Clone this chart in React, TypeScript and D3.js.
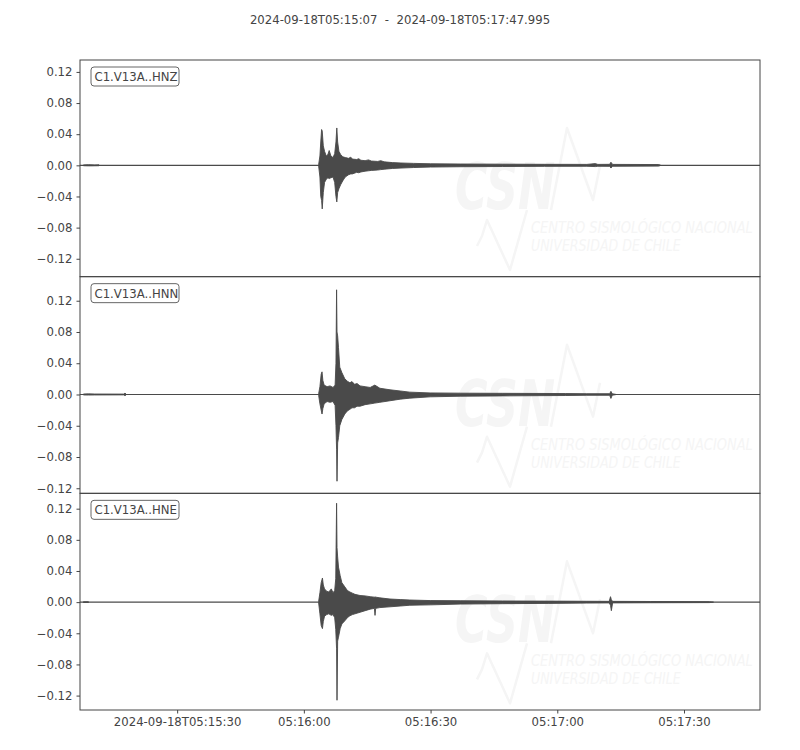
import { useRef, useEffect } from "react";
import * as d3 from "d3";

// ── Data ────────────────────────────────────────────────────────────────────
const TITLE = "2024-09-18T05:15:07  -  2024-09-18T05:17:47.995";
const START_TIME = "2024-09-18T05:15:07.000Z";
const END_TIME = "2024-09-18T05:17:47.995Z";

const CHANNELS = ["C1.V13A..HNZ", "C1.V13A..HNN", "C1.V13A..HNE"];
// y-limits per panel (equal range, different centre)
const Y_LIMITS: [number, number][] = [
  [-0.143, 0.1353],
  [-0.1265, 0.1508],
  [-0.1385, 0.1397],
];
const Y_TICKS = [-0.12, -0.08, -0.04, 0, 0.04, 0.08, 0.12];

const X_TICKS = [
  "2024-09-18T05:15:30Z",
  "2024-09-18T05:16:00Z",
  "2024-09-18T05:16:30Z",
  "2024-09-18T05:17:00Z",
  "2024-09-18T05:17:30Z",
];
const X_TICK_LABELS = ["2024-09-18T05:15:30", "05:16:00", "05:16:30", "05:17:00", "05:17:30"];

// Trace extent in seconds from start (flat part of the trace)
const TRACE_SPAN = [0, 160.995];

// Envelopes: [seconds from start, max, min]
type Env = [number, number, number];

const HNZ_PRE: Env[] = [
  [0.8, 0.0005, -0.0005], [2, 0.0008, -0.0007], [3.5, 0.0005, -0.0006], [4.5, 0.0006, -0.0005],
];
const HNZ_ENV: Env[] = [
  [56.5, 0.001, -0.001], [56.8, 0.012, -0.015], [57.0, 0.03, -0.04], [57.2, 0.046, -0.045],
  [57.35, 0.044, -0.056], [57.6, 0.025, -0.035], [57.9, 0.018, -0.022], [58.3, 0.012, -0.018],
  [58.7, 0.014, -0.016], [59.0, 0.019, -0.017], [59.4, 0.012, -0.016], [59.9, 0.01, -0.015],
  [60.3, 0.015, -0.022], [60.6, 0.03, -0.04], [60.8, 0.048, -0.047], [61.0, 0.03, -0.035],
  [61.3, 0.018, -0.03], [61.7, 0.014, -0.025], [62.2, 0.011, -0.02], [62.8, 0.01, -0.015],
  [63.6, 0.009, -0.012], [64.1, 0.0105, -0.011], [64.5, 0.008, -0.011], [65.5, 0.0075, -0.009],
  [66.0, 0.0085, -0.0095], [66.5, 0.0065, -0.0085], [67.5, 0.006, -0.0075], [68.3, 0.007, -0.007],
  [69.0, 0.0055, -0.0065], [70.5, 0.005, -0.006], [71.2, 0.006, -0.0055], [72.0, 0.0045, -0.005],
  [74.0, 0.0035, -0.004], [76.0, 0.003, -0.0035], [79.0, 0.0025, -0.0028], [83.0, 0.002, -0.0022],
  [90.0, 0.0017, -0.0018], [100.0, 0.0015, -0.0015], [110.0, 0.0013, -0.0013], [120.0, 0.0012, -0.0012],
  [122.0, 0.0022, -0.0016], [122.6, 0.0012, -0.0012], [125.4, 0.0013, -0.0013], [125.7, 0.004, -0.0035],
  [126.1, 0.0012, -0.0012], [137.0, 0.001, -0.001], [137.5, 0, 0],
];

const HNN_PRE: Env[] = [
  [0.8, 0.0006, -0.0006], [2, 0.0008, -0.0007], [3.5, 0.0006, -0.0006],
  [10.4, 0.0005, -0.0005], [10.65, 0.0018, -0.0016], [10.9, 0.0005, -0.0005],
];
const HNN_ENV: Env[] = [
  [56.5, 0.001, -0.001], [56.8, 0.01, -0.012], [57.1, 0.026, -0.02], [57.3, 0.029, -0.025],
  [57.5, 0.018, -0.018], [57.8, 0.012, -0.012], [58.5, 0.01, -0.009], [59.2, 0.011, -0.01],
  [59.9, 0.009, -0.009], [60.4, 0.012, -0.014], [60.6, 0.04, -0.04], [60.75, 0.134, -0.07],
  [60.85, 0.08, -0.111], [61.0, 0.075, -0.062], [61.2, 0.06, -0.055], [61.5, 0.035, -0.04],
  [62.0, 0.028, -0.032], [62.7, 0.02, -0.025], [63.3, 0.017, -0.021], [63.9, 0.015, -0.019],
  [64.4, 0.0165, -0.017], [65.0, 0.013, -0.017], [65.6, 0.014, -0.015], [66.3, 0.011, -0.015],
  [67.5, 0.01, -0.013], [68.7, 0.009, -0.012], [69.8, 0.012, -0.011], [71.0, 0.008, -0.01],
  [73.4, 0.006, -0.008], [75.8, 0.0045, -0.006], [78.1, 0.003, -0.0047], [82.9, 0.002, -0.003],
  [90.0, 0.0017, -0.0022], [100.0, 0.0015, -0.0018], [115.0, 0.0012, -0.0013], [120.0, 0.001, -0.001],
  [125.4, 0.001, -0.001], [125.7, 0.004, -0.005], [126.0, 0.001, -0.001], [127.0, 0, 0],
];

const HNE_PRE: Env[] = [[0.8, 0.0004, -0.0004], [2, 0.0005, -0.0005]];
const HNE_ENV: Env[] = [
  [56.5, 0.001, -0.001], [56.8, 0.012, -0.015], [57.1, 0.025, -0.03], [57.4, 0.031, -0.034],
  [57.6, 0.022, -0.025], [57.9, 0.017, -0.018], [58.4, 0.014, -0.016], [58.9, 0.013, -0.015],
  [59.5, 0.017, -0.017], [59.9, 0.012, -0.016], [60.3, 0.015, -0.02], [60.55, 0.03, -0.035],
  [60.75, 0.127, -0.06], [60.85, 0.07, -0.126], [61.0, 0.058, -0.05], [61.2, 0.045, -0.045],
  [61.6, 0.034, -0.034], [62.0, 0.025, -0.028], [62.7, 0.0196, -0.024], [63.3, 0.015, -0.02],
  [63.9, 0.013, -0.0175], [64.5, 0.0115, -0.016], [65.1, 0.01, -0.015], [66.3, 0.0085, -0.013],
  [67.5, 0.008, -0.011], [68.7, 0.007, -0.009], [69.7, 0.0064, -0.008], [69.85, 0.007, -0.017],
  [70.0, 0.0064, -0.008], [71.0, 0.0055, -0.007], [73.4, 0.004, -0.006], [75.8, 0.0033, -0.005],
  [78.1, 0.0027, -0.004], [82.9, 0.002, -0.0035], [90.0, 0.0018, -0.0025], [100.0, 0.0015, -0.002],
  [111.0, 0.0013, -0.0016], [120.0, 0.0011, -0.0012], [125.3, 0.001, -0.001], [125.6, 0.007, -0.004],
  [125.8, 0.003, -0.011], [126.1, 0.001, -0.001], [135.0, 0.0008, -0.0008], [149.0, 0.0006, -0.0006],
  [150.0, 0, 0],
];

const ENVELOPES: Env[][][] = [
  [HNZ_PRE, HNZ_ENV],
  [HNN_PRE, HNN_ENV],
  [HNE_PRE, HNE_ENV],
];

const WATERMARK_TITLE = "CSN";
const WATERMARK_LINES = ["CENTRO SISMOLÓGICO NACIONAL", "UNIVERSIDAD DE CHILE"];

// ── Styling ────────────────────────────────────────────────────────────────
const FONT = "'DejaVu Sans', sans-serif";
const INK = "#444444";
const TRACE = "#4a4a4a";
const WATER = "#f5f5f5";

// squeeze a text horizontally so it spans `w` pixels from its x
function fitWidth(sel: d3.Selection<SVGTextElement, unknown, null, undefined>, x0: number, w: number) {
  const natural = sel.node()!.getComputedTextLength() || w;
  const k = w / natural;
  sel.attr("x", 0).attr("transform", `translate(${x0},${sel.attr("y")}) scale(${k},1)`).attr("y", 0);
}

export default function App() {
  const svgRef = useRef<SVGSVGElement>(null);

  useEffect(() => {
    if (!svgRef.current) return;
    const width = 800;
    const height = 750;
    const margin = { top: 60, right: 40, bottom: 40, left: 80 };
    const innerW = width - margin.left - margin.right;
    const panelH = (height - margin.top - margin.bottom) / CHANNELS.length;

    const svg = d3.select(svgRef.current);
    svg.selectAll("*").remove();

    const start = new Date(START_TIME);
    const end = new Date(END_TIME);
    const t2d = (s: number) => new Date(start.getTime() + s * 1000);

    const x = d3.scaleUtc().domain([start, end]).range([margin.left, margin.left + innerW]);

    // ── Title ──────────────────────────────────────────────────────
    svg.append("text")
      .attr("x", 400)
      .attr("y", 24)
      .attr("text-anchor", "middle")
      .attr("font-family", FONT)
      .attr("font-size", 11.7)
      .attr("fill", INK)
      .style("white-space", "pre")
      .text(TITLE);

    CHANNELS.forEach((label, i) => {
      const top = margin.top + i * panelH;
      const y = d3.scaleLinear().domain(Y_LIMITS[i]).range([top + panelH, top]);
      const g = svg.append("g");

      // ── Watermark ────────────────────────────────────────────────
      const wm = g.append("g").attr("transform", `translate(0,${top})`);
      const csn = wm.append("text")
        .attr("y", 149)
        .attr("font-family", FONT).attr("font-weight", "bold").attr("font-style", "italic")
        .attr("font-size", 64)
        .attr("fill", WATER)
        .text(WATERMARK_TITLE);
      fitWidth(csn, 455, 100);
      wm.append("polyline")
        .attr("points", "551,150 567,68 593,140 600,106")
        .attr("fill", "none").attr("stroke", WATER).attr("stroke-width", 2.5)
        .attr("stroke-linejoin", "round");
      wm.append("polyline")
        .attr("points", "477,186 482,176 487,160 510,210 527,150")
        .attr("fill", "none").attr("stroke", WATER).attr("stroke-width", 2.5)
        .attr("stroke-linejoin", "round");
      WATERMARK_LINES.forEach((line, j) => {
        const t = wm.append("text")
          .attr("y", 173 + j * 18)
          .attr("font-family", FONT).attr("font-style", "italic")
          .attr("font-size", 15)
          .attr("fill", WATER)
          .text(line);
        fitWidth(t, 531, j === 0 ? 222 : 150);
      });

      // ── Trace: flat line + envelopes ─────────────────────────────
      g.append("line")
        .attr("x1", x(t2d(TRACE_SPAN[0]))).attr("x2", x(t2d(TRACE_SPAN[1])))
        .attr("y1", y(0)).attr("y2", y(0))
        .attr("stroke", TRACE).attr("stroke-width", 1.1);

      const area = d3.area<Env>()
        .x((d) => x(t2d(d[0])))
        .y0((d) => y(d[2]))
        .y1((d) => y(d[1]));

      ENVELOPES[i].forEach((env) => {
        g.append("path")
          .datum(env)
          .attr("d", area)
          .attr("fill", TRACE)
          .attr("stroke", TRACE)
          .attr("stroke-width", 0.9)
          .attr("stroke-linejoin", "round");
      });

      // ── Frame ─────────────────────────────────────────────────────
      g.append("rect")
        .attr("x", margin.left).attr("y", top)
        .attr("width", innerW).attr("height", panelH)
        .attr("fill", "none").attr("stroke", INK).attr("stroke-width", 1);

      // ── Y axis ────────────────────────────────────────────────────
      const yAxis = d3.axisLeft(y)
        .tickValues(Y_TICKS)
        .tickSize(3.5)
        .tickPadding(4)
        .tickFormat((d) => d3.format(".2f")(d as number).replace("-", "\u2212"));
      const ya = g.append("g").attr("transform", `translate(${margin.left},0)`).call(yAxis);
      ya.select(".domain").remove();
      ya.selectAll("line").attr("stroke", INK);
      ya.selectAll("text")
        .attr("font-family", FONT).attr("font-size", 11.7).attr("fill", INK);

      // ── Channel label box ─────────────────────────────────────────
      const lbl = g.append("g").attr("transform", `translate(${margin.left + 11},${top + 7})`);
      lbl.append("rect")
        .attr("width", 88).attr("height", 19).attr("rx", 3)
        .attr("fill", "white").attr("stroke", "#666").attr("stroke-width", 1);
      lbl.append("text")
        .attr("x", 3.5).attr("y", 14)
        .attr("font-family", FONT).attr("font-size", 11.7).attr("fill", INK)
        .text(label);

      // ── X axis on last panel ──────────────────────────────────────
      if (i === CHANNELS.length - 1) {
        const xAxis = d3.axisBottom(x)
          .tickValues(X_TICKS.map((s) => new Date(s)))
          .tickSize(3.5)
          .tickPadding(4)
          .tickFormat((_, k) => X_TICK_LABELS[k]);
        const xa = g.append("g").attr("transform", `translate(0,${top + panelH})`).call(xAxis);
        xa.select(".domain").remove();
        xa.selectAll("line").attr("stroke", INK);
        xa.selectAll("text")
          .attr("font-family", FONT).attr("font-size", 11.7).attr("fill", INK);
      }
    });
  }, []);

  return (
    <svg
      ref={svgRef}
      width={800}
      height={750}
      style={{ position: "absolute", left: 0, top: 0, background: "white" }}
    />
  );
}
